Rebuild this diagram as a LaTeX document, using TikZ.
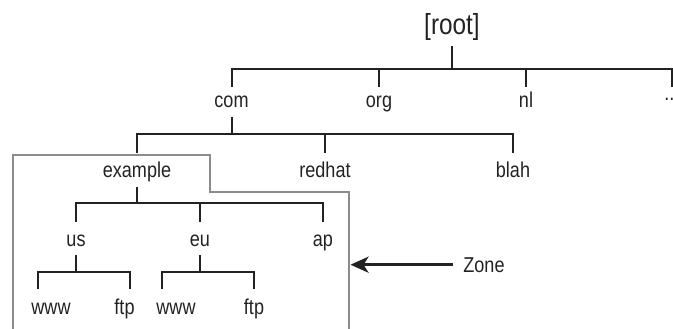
\documentclass[tikz,border=0pt]{standalone}
\usepackage{fontspec}
\setmainfont{Liberation Sans}[FakeStretch=0.84]
\usetikzlibrary{arrows.meta}
\definecolor{zonegray}{HTML}{8C8C8C}
\definecolor{treeink}{HTML}{222222}
\begin{document}
\begin{tikzpicture}[x=1pt,y=-1pt,>=Stealth]
        \tikzset{dom/.style={anchor=base,inner sep=0pt,text=treeink,font=\fontsize{21.5}{24}\selectfont},
          branch/.style={draw=treeink,line width=2pt},
          zonebox/.style={draw=zonegray,line width=2.7pt},
          zonearrow/.style={draw=treeink,line width=3pt,-{Stealth[length=18pt,width=16pt,inset=5pt]}}}
        \useasboundingbox (0,0) rectangle (673,329);
        \node[dom,font=\fontsize{29}{32}\selectfont] (root) at (452,35) {[root]};
        \node[dom] (com) at (231.5,108) {com};
        \node[dom] (org) at (379,108) {org};
        \node[dom] (nl) at (526,108) {nl};
        \node[dom] (more) at (672,101) {...};
        \node[dom] (example) at (137,177) {example};
        \node[dom] (redhat) at (325,177) {redhat};
        \node[dom] (blah) at (513,177) {blah};
        \node[dom] (us) at (76,246) {us};
        \node[dom] (eu) at (200,246) {eu};
        \node[dom] (ap) at (323,246) {ap};
        \node[dom] (uswww) at (51,314) {www};
        \node[dom] (usftp) at (124.5,314) {ftp};
        \node[dom] (euwww) at (176,314) {www};
        \node[dom] (euftp) at (254,314) {ftp};
        \node[dom] (zone) at (484,272) {Zone};
        \coordinate (topA) at (0,46);
        \coordinate (barA) at (0,69);
        \coordinate (endA) at (0,87);
        \coordinate (topB) at (0,117);
        \coordinate (barB) at (0,134);
        \coordinate (endB) at (0,153);
        \coordinate (topC) at (0,187);
        \coordinate (barC) at (0,203);
        \coordinate (endC) at (0,222);
        \coordinate (topD) at (0,255);
        \coordinate (barD) at (0,272);
        \coordinate (endD) at (0,289);
        \coordinate (usL) at (37.5,0);
        \coordinate (usR) at (129.5,0);
        \coordinate (euL) at (162,0);
        \coordinate (euR) at (253.5,0);
        \coordinate (zonetip) at (350.5,0);
        \draw[branch] (root |- topA) -- (root |- barA);
        \draw[branch] (com |- endA) |- (more |- barA) -- (more |- endA);
        \draw[branch] (org |- barA) -- (org |- endA);
        \draw[branch] (nl |- barA) -- (nl |- endA);
        \draw[branch] (com |- topB) -- (com |- barB);
        \draw[branch] (example |- endB) |- (blah |- barB) -- (blah |- endB);
        \draw[branch] (redhat |- barB) -- (redhat |- endB);
        \draw[branch] (example |- topC) -- (example |- barC);
        \draw[branch] (us |- endC) |- (ap |- barC) -- (ap |- endC);
        \draw[branch] (eu |- barC) -- (eu |- endC);
        \draw[branch] (us |- topD) -- (us |- barD);
        \draw[branch] (usL |- endD) |- (usR |- barD) -- (usR |- endD);
        \draw[branch] (eu |- topD) -- (eu |- barD);
        \draw[branch] (euL |- endD) |- (euR |- barD) -- (euR |- endD);
        \draw[zonebox] (13,332) -- (13,155) -- (210,155) -- (210,192) -- (349,192) -- (349,332);
        \draw[zonearrow] ([xshift=-10pt]zone.west) -- (zonetip |- zone.west);
      \end{tikzpicture}
\end{document}
